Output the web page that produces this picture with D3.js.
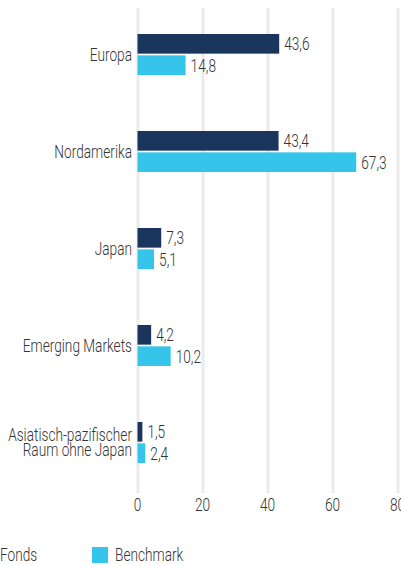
<!DOCTYPE html>
<html>
<head>
<meta charset="utf-8">
<script src="https://cdn.jsdelivr.net/npm/d3@7"></script>
<style>
  html, body { margin: 0; padding: 0; background: #fff; }
  svg { display: block; }
  text { font-family: Roboto, "DejaVu Sans Condensed", sans-serif; font-weight: 300; fill: #333; }
</style>
</head>
<body>
<svg id="chart" width="401" height="565"></svg>
<script>
const categories = ["Europa", "Nordamerika", "Japan", "Emerging Markets", "Asiatisch-pazifischer Raum ohne Japan"];
const categoryLines = [["Europa"], ["Nordamerika"], ["Japan"], ["Emerging Markets"], ["Asiatisch-pazifischer", "Raum ohne Japan"]];
const seriesNames = ["Fonds", "Benchmark"];
const fondsValues = [43.6, 43.4, 7.3, 4.2, 1.5];
const benchmarkValues = [14.8, 67.3, 5.1, 10.2, 2.4];
const tickValues = [0, 20, 40, 60, 80];
const colors = ["#1b365d", "#35c4ea"];

const FS = 18, SX = 0.76;
const svg = d3.select("#chart");
const x = d3.scaleLinear().domain([0, 80]).range([137.5, 397.5]);
const y = d3.scaleBand().domain(categories).range([8, 489]).paddingInner(0.577).paddingOuter(0.268);
const ySub = d3.scaleBand().domain(seriesNames).range([0, y.bandwidth()]).paddingInner(0.08);
const color = d3.scaleOrdinal().domain(seriesNames).range(colors);
const fmt = v => d3.format(".1f")(v).replace(".", ",");

// condensed text helper
function ctext(sel, px, py, str, anchor) {
  return sel.append("text")
    .attr("transform", `translate(${px},${py}) scale(${SX},1)`)
    .attr("text-anchor", anchor || "start")
    .attr("font-size", FS)
    .attr("dy", "0.36em")
    .text(str);
}

// gridlines
const grid = svg.append("g").attr("transform", "translate(0,493)")
  .call(d3.axisBottom(x).tickValues(tickValues).tickSize(-485).tickFormat(""));
grid.select(".domain").remove();
grid.selectAll("line").attr("stroke", "#ebebeb").attr("stroke-width", 3);

// axis labels
const ax = svg.append("g");
tickValues.forEach(t => ctext(ax, x(t), 505, d3.format("d")(t), "middle"));

const data = categories.map((c, i) => ({
  cat: c, lines: categoryLines[i],
  vals: [{s: "Fonds", v: fondsValues[i]}, {s: "Benchmark", v: benchmarkValues[i]}]
}));

const groups = svg.append("g").selectAll("g").data(data).join("g")
  .attr("transform", d => `translate(0,${y(d.cat)})`);

groups.selectAll("rect").data(d => d.vals).join("rect")
  .attr("x", x(0))
  .attr("y", d => ySub(d.s))
  .attr("width", d => x(d.v) - x(0))
  .attr("height", ySub.bandwidth())
  .attr("fill", d => color(d.s));

groups.each(function(d) {
  const g = d3.select(this);
  d.vals.forEach(v => ctext(g, x(v.v) + 5, ySub(v.s) + ySub.bandwidth() / 2, fmt(v.v)));
  const n = d.lines.length, lh = 15;
  d.lines.forEach((l, j) => ctext(g, 132, y.bandwidth() / 2 + (j - (n - 1) / 2) * lh, l, "end"));
});

// legend
const legendX = [-23, 92];
const leg = svg.append("g").selectAll("g").data(seriesNames).join("g")
  .attr("transform", (d, i) => `translate(${legendX[i]},547)`);
leg.append("rect").attr("width", 16).attr("height", 16).attr("fill", d => color(d));
leg.each(function(d) { ctext(d3.select(this), 23, 8, d); });
</script>
</body>
</html>
